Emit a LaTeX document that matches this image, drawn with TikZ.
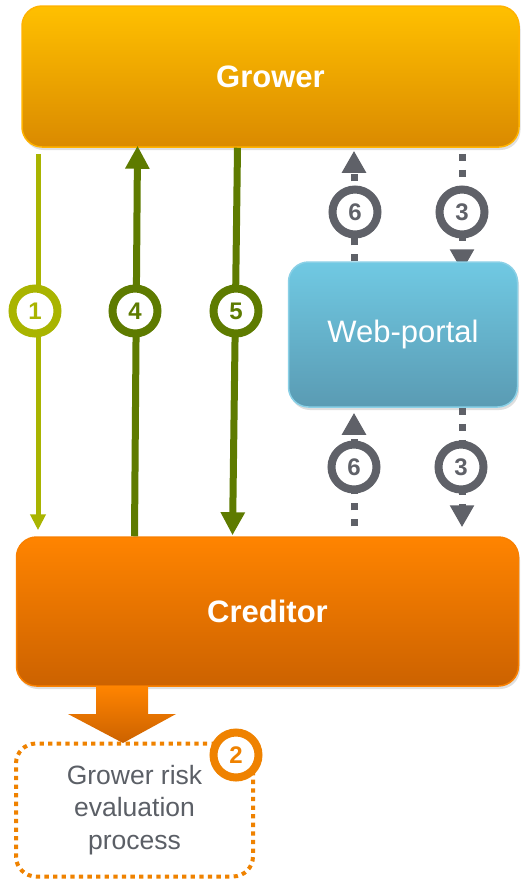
\documentclass[tikz,border=0pt]{standalone}
\usepackage{fontspec}
\setmainfont{Liberation Sans}
\usetikzlibrary{arrows.meta,shadows,backgrounds,calc}
\definecolor{growtop}{HTML}{FFC000}
\definecolor{growbot}{HTML}{DA8A00}
\definecolor{growedge}{HTML}{FFB300}
\definecolor{credtop}{HTML}{FF8400}
\definecolor{credbot}{HTML}{CC6200}
\definecolor{crededge}{HTML}{F98000}
\definecolor{webtop}{HTML}{70C9E3}
\definecolor{webbot}{HTML}{5A9BB3}
\definecolor{webedge}{HTML}{8AD0E6}
\definecolor{limec}{HTML}{A9B400}
\definecolor{olivec}{HTML}{5E7B00}
\definecolor{slatec}{HTML}{5F6168}
\definecolor{dotorange}{HTML}{EF8200}
\definecolor{txtgray}{HTML}{5B5F66}
\begin{document}
\begin{tikzpicture}[x=1pt,y=-1pt,
 box/.style={rounded corners=20pt, line width=1.5pt, drop shadow={opacity=0.25,shadow xshift=1.5pt,shadow yshift=-3pt}, text=white, inner sep=0pt},
 num/.style={circle, draw=#1, fill=white, line width=8pt, minimum size=45pt, inner sep=0pt, text=#1, font=\fontsize{24}{24}\selectfont\bfseries},
 solidflow/.style={draw=#1, line width=7pt, -{Triangle[width=23pt,length=23pt]}},
 grayflow/.style={draw=slatec, line width=7pt, dash pattern=on 7.5pt off 8.5pt, -{Triangle[width=23pt,length=22pt]}},
]
\useasboundingbox (0,0) rectangle (520,879);

% columns
\coordinate (c1) at (38,0);
\coordinate (c4) at (136,0);
\coordinate (c5) at (235,0);
\coordinate (c6) at (354,0);
\coordinate (c3) at (462,0);

% boxes
\node[box, draw=growedge, top color=growtop, bottom color=growbot, minimum width=497pt, minimum height=141pt, font=\fontsize{31}{31}\selectfont\bfseries] (grower) at (270.5,76.5) {Grower};
\node[box, draw=webedge, top color=webtop, bottom color=webbot, minimum width=229pt, minimum height=145pt, font=\fontsize{31}{31}\selectfont] (web) at (403,334.5) {Web-portal};
\node[box, draw=crededge, top color=credtop, bottom color=credbot, minimum width=502pt, minimum height=149pt, font=\fontsize{31}{31}\selectfont\bfseries] (creditor) at (267.5,611.5) {Creditor};

\node[draw=dotorange, line width=4pt, dash pattern=on 4.3pt off 4.3pt, rounded corners=20pt, minimum width=237pt, minimum height=133pt, align=center, text=txtgray, font=\fontsize{26.5}{32.5}\selectfont] (risk) at (134.5,810) {Grower risk\\evaluation\\process};

% block arrow from creditor to risk box
\shade[top color=credtop, bottom color=credbot] (96,686) -- (148,686) -- (148,714) -- (176,714) -- (123,743) -- (68,714) -- (96,714) -- cycle;

% connectors
\draw[draw=limec, line width=5pt, -{Triangle[width=15pt,length=16pt]}, shorten <=6pt, shorten >=6pt] (grower.south -| c1) -- (creditor.north -| c1);
\draw[solidflow=olivec, shorten >=-2pt] ([xshift=-1.5pt]creditor.north -| c4) -- ([xshift=1.5pt]grower.south -| c4);
\draw[solidflow=olivec, shorten >=1pt] ([xshift=2.5pt]grower.south -| c5) -- ([xshift=-2.5pt]creditor.north -| c5);

\draw[grayflow, shorten >=3pt] (web.north -| c6) -- (grower.south -| c6);
\begin{scope}[on background layer]
\draw[grayflow, shorten <=6pt, shorten >=-10pt] (grower.south -| c3) -- (web.north -| c3);
\end{scope}
\draw[grayflow, shorten <=10pt, shorten >=5pt] (creditor.north -| c6) -- (web.south -| c6);
\draw[grayflow, shorten >=9pt] (web.south -| c3) -- (creditor.north -| c3);

% number circles
\node[num=limec] (n1) at (35,311) {1};
\node[num=olivec] (n4) at (135,311) {4};
\node[num=olivec] (n5) at (236,311) {5};
\node[num=slatec] (n6a) at (355,212) {6};
\node[num=slatec] (n3a) at (462,212) {3};
\node[num=slatec] (n6b) at (354,467) {6};
\node[num=slatec] (n3b) at (461,467) {3};
\node[num=dotorange] (n2) at (236,755) {2};
\end{tikzpicture}
\end{document}
